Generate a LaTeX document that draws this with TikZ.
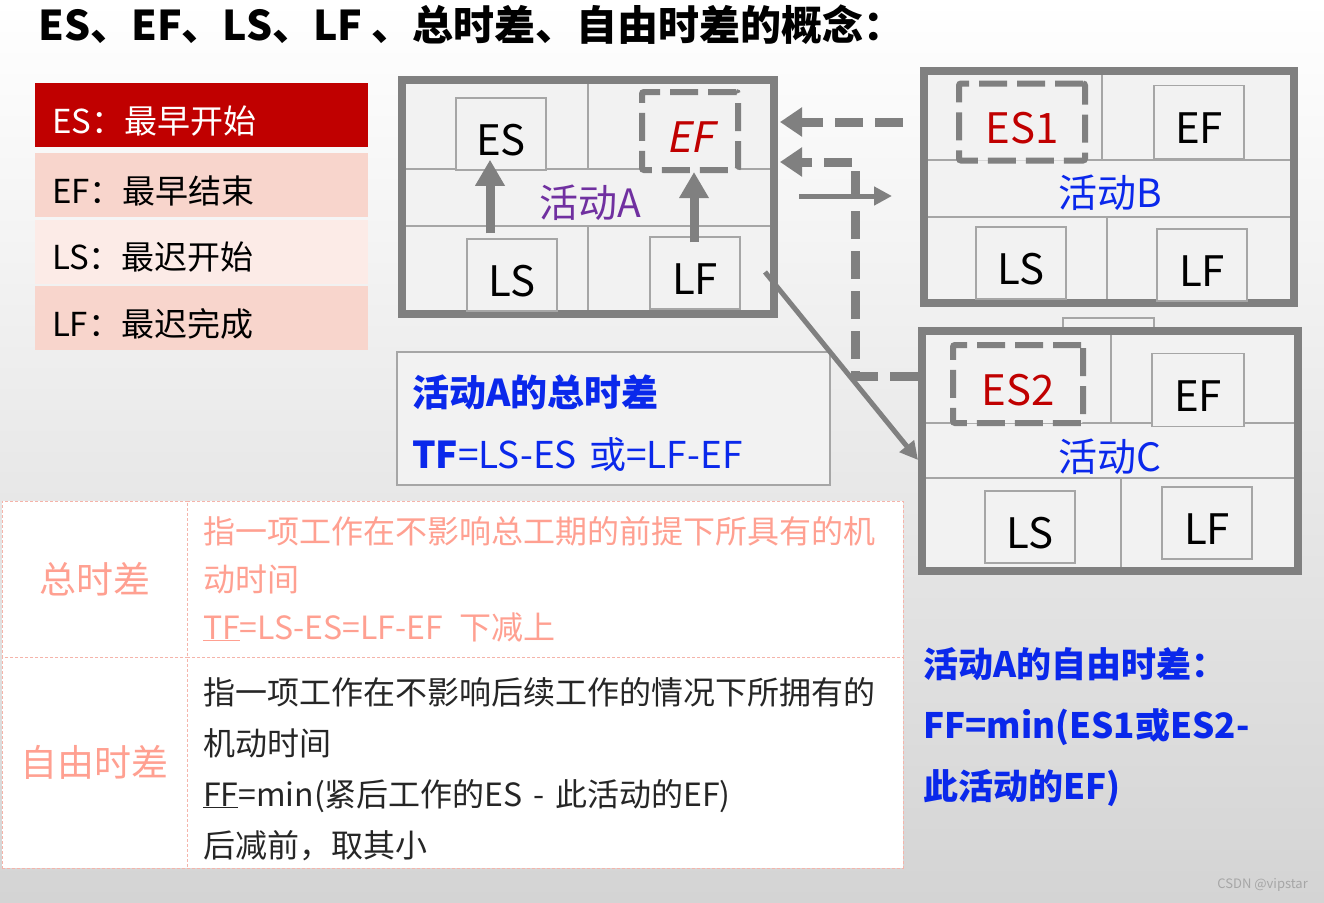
\documentclass[tikz,border=0pt]{standalone}
\usepackage{fontspec}
\setmainfont{Noto Sans CJK SC}
\newfontfamily\slantcjk{Noto Sans CJK SC}[FakeSlant=0.2]
\usetikzlibrary{arrows.meta, positioning}
\definecolor{boxgray}{RGB}{128,128,128}
\definecolor{cellgray}{RGB}{242,242,242}
\definecolor{cellline}{RGB}{166,166,166}
\definecolor{esred}{RGB}{192,0,0}
\definecolor{legendpink}{RGB}{248,213,204}
\definecolor{legendlight}{RGB}{252,235,231}
\definecolor{actpurple}{RGB}{112,48,160}
\definecolor{actblue}{RGB}{10,40,235}
\definecolor{tablepink}{RGB}{255,160,145}
\definecolor{tableline}{RGB}{245,180,170}
\definecolor{bggray}{RGB}{212,212,212}

\begin{document}
\begin{tikzpicture}[x=1pt, y=-1pt,
    legend/.style={rectangle, minimum width=333pt, minimum height=64pt, text width=299pt, inner xsep=17pt, inner ysep=0pt, align=left, text height=36pt, text depth=0pt, font=\fontsize{33}{33}\selectfont},
    actbox/.style={rectangle, draw=boxgray, line width=8pt, fill=cellgray, inner sep=0pt},
    gridline/.style={draw=cellline, line width=1.5pt},
    cell/.style={rectangle, draw=cellline, line width=1.5pt, fill=cellgray, minimum width=90pt, minimum height=72pt, inner sep=0pt, text height=42pt, text depth=0pt, font=\fontsize{42}{42}\selectfont},
    dashcell/.style={cell, draw=boxgray, line width=6pt, dash pattern=on 28pt off 10pt, rounded corners=2pt, text=esred},
    actlabel/.style={inner sep=0pt, font=\fontsize{39}{39}\selectfont},
    uparrow/.style={draw=boxgray, line width=9pt, -{Triangle[length=26pt,width=28pt]}},
    dasharrow/.style={draw=boxgray, line width=9pt, dash pattern=on 28pt off 12pt, -{Triangle[length=22pt,width=28pt]}},
    thinarrow/.style={draw=boxgray, line width=5pt, -{Triangle[length=18pt,width=18pt]}},
    tcell/.style={rectangle, draw=tableline, line width=1pt, dash pattern=on 3pt off 2pt, fill=white, inner sep=0pt}
  ]
  \useasboundingbox (0,0) rectangle (1324,902);
  \shade[top color=white, bottom color=bggray] (0,0) rectangle (1324,902);

  % title
  \node[anchor=west, inner sep=0pt, font=\bfseries\fontsize{41}{41}\selectfont] (title) at (38,25) {ES、EF、LS、LF 、总时差、自由时差的概念：};

  % legend
  \node[legend, fill=esred, text=white] (lgES) at (201.5,115) {ES：最早开始};
  \node[legend, fill=legendpink, below=6pt of lgES] (lgEF) {EF：最早结束};
  \node[legend, fill=legendlight, below=2pt of lgEF] (lgLS) {LS：最迟开始};
  \node[legend, fill=legendpink, below=2pt of lgLS] (lgLF) {LF：最迟完成};

  % table
  \node[tcell, minimum width=185pt, minimum height=156pt, font=\fontsize{37}{37}\selectfont, text=tablepink] (tfHead) at (94.5,579) {总时差};
  \node[tcell, minimum width=716pt, minimum height=156pt, text width=684pt, inner xsep=16pt, align=left, font=\fontsize{32}{48}\selectfont, text=tablepink] (tfDef) at (545,579)
    {指一项工作在不影响总工期的前提下所具有的机\\动时间\\\underline{TF}=LS-ES=LF-EF\hspace{16pt}下减上};
  \node[tcell, minimum width=185pt, minimum height=211pt, font=\fontsize{37}{37}\selectfont, text=tablepink] (ffHead) at (94.5,762.5) {自由时差};
  \node[tcell, minimum width=716pt, minimum height=211pt, text width=684pt, inner xsep=16pt, align=left, font=\fontsize{32}{51}\selectfont, text=black!85] (ffDef) at (545,762.5)
    {\rule{0pt}{40pt}指一项工作在不影响后续工作的情况下所拥有的\\机动时间\\\underline{FF}=min(紧后工作的ES - 此活动的EF)\\后减前，取其小};

  % total float note
  \node[rectangle, draw=cellline, line width=1.5pt, fill=cellgray, minimum width=433pt, minimum height=133pt, text width=403pt, inner xsep=15pt, inner ysep=0pt, align=left, font=\fontsize{37}{62}\selectfont, text=actblue] (tfBox) at (613.5,418.5)
    {\rule{0pt}{40pt}\textbf{活动A的总时差}\\\textbf{TF}=LS-ES 或=LF-EF};

  % activity A
  \node[actbox, minimum width=372pt, minimum height=234pt] (actA) at (588,197) {};
  \draw[gridline] (406,169) -- (770,169);
  \draw[gridline] (406,226) -- (770,226);
  \draw[gridline] (588,84) -- (588,169);
  \draw[gridline] (588,226) -- (588,310);
  \node[cell] (esA) at (501,134) {ES};
  \node[dashcell, minimum width=96pt, minimum height=78pt] (efA) at (690,131) {\slantcjk EF};
  \node[cell] (lsA) at (512,275) {LS};
  \node[cell] (lfA) at (695,273) {LF};
  \node[actlabel, text=actpurple] (nameA) at (590,203) {活动A};
  \draw[uparrow] ([xshift=-22pt,yshift=5pt]lsA.north) -- ([xshift=-11pt,yshift=11pt]esA.south);
  \draw[uparrow] ([xshift=-1pt,yshift=-6pt]lfA.north) -- ([xshift=4pt,yshift=1pt]efA.south);

  % activity B
  \node[actbox, minimum width=370pt, minimum height=232pt] (actB) at (1109,187) {};
  \draw[gridline] (928,160) -- (1290,160);
  \draw[gridline] (928,217) -- (1290,217);
  \draw[gridline] (1102,75) -- (1102,160);
  \draw[gridline] (1107,217) -- (1107,299);
  \node[dashcell, minimum width=126pt, minimum height=77pt] (es1) at (1022,122) {ES1};
  \node[cell, minimum height=73pt] (efB) at (1199,122) {EF};
  \node[cell] (lsB) at (1021,263) {LS};
  \node[cell] (lfB) at (1202,265) {LF};
  \node[actlabel, text=actblue] (nameB) at (1110,193) {活动B};

  % activity C
  \draw[fill=cellgray, draw=cellline, line width=1.5pt] (1063,318) rectangle (1154,331);
  \node[actbox, minimum width=376pt, minimum height=240pt] (actC) at (1110,451) {};
  \draw[gridline] (926,423) -- (1294,423);
  \draw[gridline] (926,478) -- (1294,478);
  \draw[gridline] (1111,335) -- (1111,423);
  \draw[gridline] (1121,478) -- (1121,567);
  \node[dashcell, minimum width=130pt, minimum height=78pt] (es2) at (1018,384) {ES2};
  \node[cell, minimum width=92pt, minimum height=73pt] (efC) at (1198,390) {EF};
  \node[cell] (lsC) at (1030,527) {LS};
  \node[cell] (lfC) at (1207,523) {LF};
  \node[actlabel, text=actblue] (nameC) at (1110,457) {活动C};

  % connectors
  \coordinate (es1out) at (903,122);
  \coordinate (es2bend) at (855,376);
  \coordinate (fwdS) at (799,196);
  \coordinate (fwdE) at (892,196);
  \coordinate (diagS) at (765,272);
  \draw[dasharrow, shorten >=2pt] (es1out) -- (actA.east |- es1out);
  \draw[dasharrow, shorten >=2pt] (actC.west |- es2bend) -- (es2bend) |- (actA.east |- 0,162);
  \draw[thinarrow] (fwdS) -- (fwdE);
  \draw[thinarrow] (diagS) -- (actC.west |- 0,460);

  % free float note
  \node[anchor=north west, inner sep=0pt, align=left, font=\bfseries\fontsize{35}{61}\selectfont, text=actblue] (ffNote) at (923,647)
    {活动A的自由时差：\\FF=min(ES1或ES2-\\此活动的EF)};

  \node[anchor=east, inner sep=0pt, font=\fontsize{13}{13}\selectfont, text=gray!70] (mark) at (1308,885) {CSDN @vipstar};
\end{tikzpicture}
\end{document}
